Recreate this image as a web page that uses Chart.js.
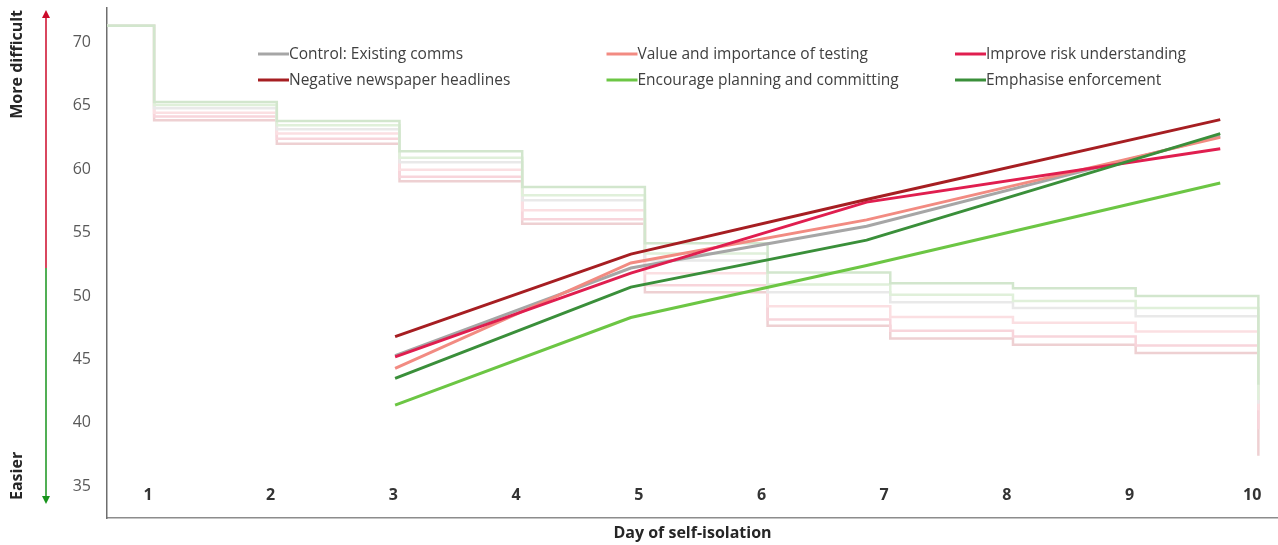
<!DOCTYPE html>
<html>
<head>
<meta charset="utf-8">
<title>Day of self-isolation</title>
<script src="https://cdn.jsdelivr.net/npm/chart.js@4.4.0/dist/chart.umd.min.js"></script>
<style>
  body { margin: 0; background: #fff; }
  #wrap { width: 1278px; height: 545px; }
</style>
</head>
<body>
<div id="wrap"><canvas id="isolationChart" width="1278" height="545"></canvas></div>
<script>
// Axis labels
const dayLabels = ['1', '2', '3', '4', '5', '6', '7', '8', '9', '10'];
const dayTicks = [1, 2, 3, 4, 5, 6, 7, 8, 9, 10];
const yTicks = [35, 40, 45, 50, 55, 60, 65, 70];

// Survey days and scores per message
const surveyDays = [3, 5, 7, 10];
const controlVals = [45.3, 52.2, 55.5, 62.6];
const valueVals = [44.3, 52.6, 56.0, 62.5];
const improveVals = [45.2, 51.8, 57.4, 61.6];
const negativeVals = [46.8, 53.3, 57.6, 63.9];
const encourageVals = [41.4, 48.3, 52.4, 58.9];
const emphasiseVals = [43.5, 50.7, 54.4, 62.8];

// Background step curves (faded)
const stepDays = [0.5, 1.05, 2.05, 3.05, 4.05, 5.05, 6.05, 7.05, 8.05, 9.05, 10.05];
const emphasiseSteps = [71.3, 65.3, 63.8, 61.4, 58.6, 54.15, 51.85, 51.0, 50.6, 50.0, 43.0];
const encourageSteps = [71.3, 65.05, 63.45, 60.9, 57.95, 53.35, 50.9, 50.1, 49.6, 49.05, 41.8];
const controlSteps = [71.3, 64.8, 63.15, 60.55, 57.55, 52.8, 50.3, 49.5, 49.05, 48.4, 41.5];
const valueSteps = [71.3, 64.45, 62.8, 59.95, 56.75, 51.8, 49.2, 48.35, 47.9, 47.2, 41.0];
const improveSteps = [71.3, 64.15, 62.4, 59.4, 56.05, 50.85, 48.15, 47.25, 46.8, 46.1, 39.5];
const negativeSteps = [71.3, 63.85, 62.0, 59.05, 55.7, 50.3, 47.65, 46.65, 46.15, 45.5, 37.4];

const FONT = '"Segoe UI", "Open Sans", "Noto Sans", sans-serif';

function toPoints(xs, ys) {
    return xs.map((x, i) => ({ x: x, y: ys[i] }));
}

function mainLine(label, vals, color, order) {
    return {
        label: label,
        data: toPoints(surveyDays, vals),
        xAxisID: 'x2',
        borderColor: color,
        backgroundColor: color,
        borderWidth: 3,
        pointRadius: 0,
        tension: 0,
        order: order,
        inLegend: true
    };
}

function stepLine(vals, color) {
    return {
        label: '',
        data: toPoints(stepDays, vals),
        xAxisID: 'x',
        borderColor: color,
        borderWidth: 2.5,
        pointRadius: 0,
        stepped: 'before',
        order: 10
    };
}

// Legend in a 3 x 2 grid inside the plot
const gridLegend = {
    id: 'gridLegend',
    afterDraw(chart) {
        const ctx = chart.ctx;
        const area = chart.chartArea;
        const items = chart.data.datasets.filter(d => d.inLegend);
        ctx.save();
        ctx.font = '15.5px ' + FONT;
        ctx.textBaseline = 'middle';
        ctx.textAlign = 'left';
        items.forEach((ds, i) => {
            const col = i % 3;
            const row = Math.floor(i / 3);
            const x = area.left + 151 + col * 348.5;
            const y = area.top + 46 + row * 26;
            ctx.strokeStyle = ds.borderColor;
            ctx.lineWidth = 3;
            ctx.beginPath();
            ctx.moveTo(x, y);
            ctx.lineTo(x + 31, y);
            ctx.stroke();
            ctx.fillStyle = '#404040';
            ctx.fillText(ds.label, x + 31, y + 1);
        });
        ctx.restore();
    }
};

// Day labels inside the plot, difficulty arrow and its captions
const axisNotes = {
    id: 'axisNotes',
    afterDraw(chart) {
        const ctx = chart.ctx;
        const area = chart.chartArea;
        const xs = chart.scales.x;
        ctx.save();

        ctx.font = 'bold 16px ' + FONT;
        ctx.fillStyle = '#333333';
        ctx.textAlign = 'center';
        ctx.textBaseline = 'middle';
        dayTicks.forEach((d, i) => {
            ctx.fillText(dayLabels[i], xs.getPixelForValue(d), area.bottom - 23);
        });

        const ax = 46;
        const topTip = area.top + 2;
        const botTip = area.bottom - 14;
        const split = (area.top + area.bottom) / 2 + 5;
        ctx.lineWidth = 1.5;
        ctx.strokeStyle = '#cc0a2a';
        ctx.beginPath();
        ctx.moveTo(ax, topTip + 6);
        ctx.lineTo(ax, split);
        ctx.stroke();
        ctx.fillStyle = '#cc0a2a';
        ctx.beginPath();
        ctx.moveTo(ax, topTip);
        ctx.lineTo(ax - 4, topTip + 8);
        ctx.lineTo(ax + 4, topTip + 8);
        ctx.closePath();
        ctx.fill();

        ctx.strokeStyle = '#17941c';
        ctx.beginPath();
        ctx.moveTo(ax, split);
        ctx.lineTo(ax, botTip - 6);
        ctx.stroke();
        ctx.fillStyle = '#17941c';
        ctx.beginPath();
        ctx.moveTo(ax, botTip);
        ctx.lineTo(ax - 4, botTip - 8);
        ctx.lineTo(ax + 4, botTip - 8);
        ctx.closePath();
        ctx.fill();

        ctx.fillStyle = '#262626';
        ctx.font = 'bold 16px ' + FONT;
        ctx.translate(17, 0);
        ctx.rotate(-Math.PI / 2);
        ctx.textAlign = 'right';
        ctx.fillText('More difficult', -(area.top + 2), 0);
        ctx.textAlign = 'left';
        ctx.fillText('Easier', -(area.bottom - 18), 0);
        ctx.restore();
    }
};

// Initialize chart
function initChart() {
    const ctx = document.getElementById('isolationChart').getContext('2d');
    new Chart(ctx, {
        type: 'line',
        data: {
            datasets: [
                mainLine('Control: Existing comms', controlVals, '#a6a6a6', 5),
                mainLine('Value and importance of testing', valueVals, '#f28b82', 4),
                mainLine('Improve risk understanding', improveVals, '#e01e4f', 3),
                mainLine('Negative newspaper headlines', negativeVals, '#a61e22', 2),
                mainLine('Encourage planning and committing', encourageVals, '#6cc644', 1),
                mainLine('Emphasise enforcement', emphasiseVals, '#3a8f3a', 0),
                stepLine(emphasiseSteps, '#d2e6cd'),
                stepLine(encourageSteps, '#e0f0da'),
                stepLine(controlSteps, '#e9e9e9'),
                stepLine(valueSteps, '#fbdfe2'),
                stepLine(improveSteps, '#f8d5db'),
                stepLine(negativeSteps, '#eed0d2')
            ]
        },
        options: {
            responsive: false,
            animation: false,
            layout: { autoPadding: false, padding: { top: 8, left: 0, right: 0, bottom: 0 } },
            plugins: {
                legend: { display: false },
                tooltip: { enabled: false }
            },
            scales: {
                x: {
                    type: 'linear',
                    min: 0.666,
                    max: 10.21,
                    grid: { display: false },
                    border: { display: true, color: '#8c8c8c', width: 1.5 },
                    ticks: { display: false },
                    title: {
                        display: true,
                        text: 'Day of self-isolation',
                        color: '#262626',
                        font: { family: FONT, size: 16, weight: 'bold' },
                        padding: { top: 0, bottom: 2 }
                    },
                    afterFit: function(scale) {
                        scale.height = 27;
                        scale.paddingLeft = 0;
                        scale.paddingRight = 0;
                    }
                },
                x2: {
                    type: 'linear',
                    display: false,
                    min: 0.556,
                    max: 10.49
                },
                y: {
                    min: 32.5,
                    max: 72.7,
                    grid: { display: false, drawTicks: false },
                    border: { display: true, color: '#6e6e6e', width: 1.5 },
                    ticks: {
                        color: '#595959',
                        padding: 16,
                        font: { family: FONT, size: 16 }
                    },
                    afterBuildTicks: function(scale) {
                        scale.ticks = yTicks.map(v => ({ value: v }));
                    },
                    afterFit: function(scale) {
                        scale.width = 107;
                        scale.paddingTop = 0;
                        scale.paddingBottom = 0;
                    }
                }
            }
        },
        plugins: [gridLegend, axisNotes]
    });
}

document.addEventListener('DOMContentLoaded', () => {
    initChart();
});
</script>
</body>
</html>
